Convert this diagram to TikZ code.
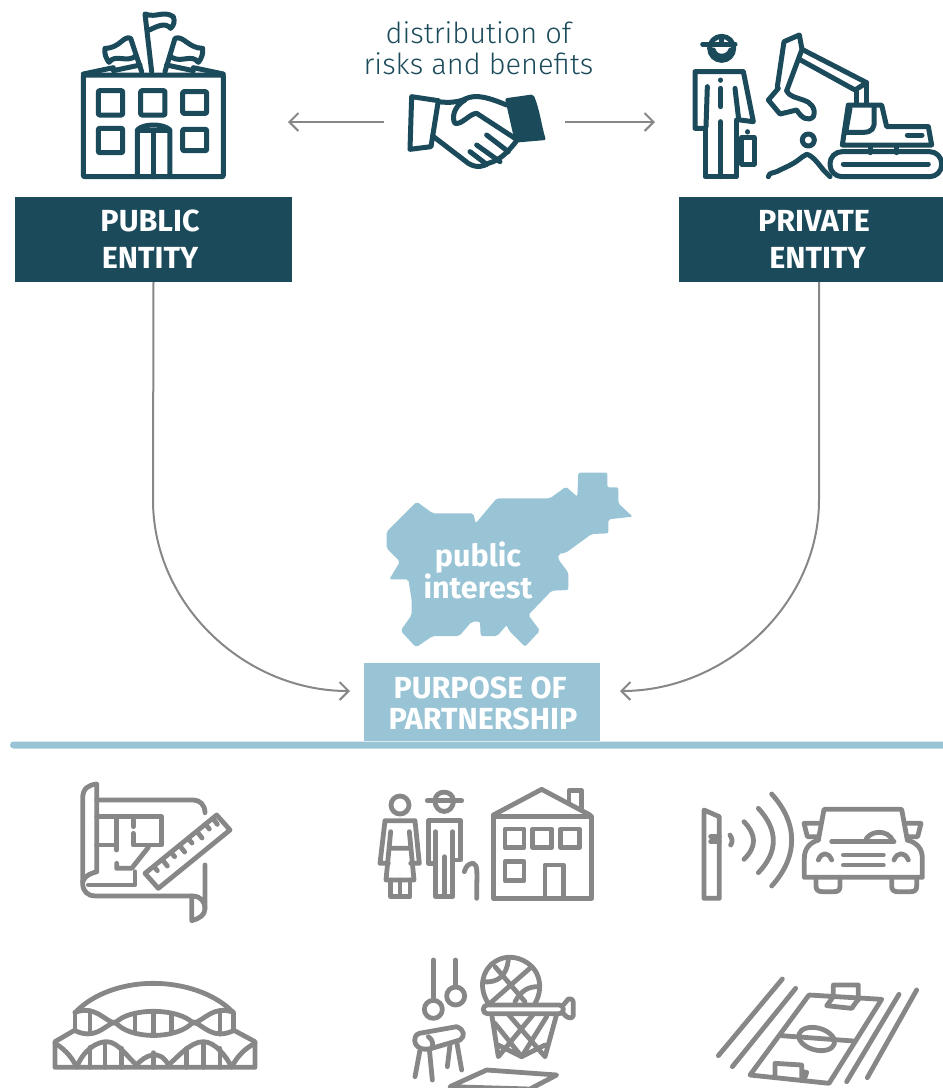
\documentclass[tikz,border=0pt]{standalone}
\usepackage{fontspec}
\setmainfont{Fira Sans}
\newfontfamily\lightfont{Fira Sans Light}
\usetikzlibrary{arrows.meta}
\definecolor{dark}{HTML}{1B4A5B}
\definecolor{light}{HTML}{98C4D6}
\definecolor{midgrey}{HTML}{878787}
\tikzset{
  x=1pt,y=-1pt,
  box/.style={fill=dark,text=white,minimum width=#1,minimum height=85pt,inner sep=0pt,align=center,font=\fontsize{30.5}{37}\selectfont\bfseries},
  purposebox/.style={fill=light,text=white,minimum width=236pt,minimum height=78pt,inner sep=0pt,align=center,font=\fontsize{30.5}{31}\selectfont\bfseries},
  darkicon/.style={draw=dark,line width=5pt,line cap=round,line join=round},
  greyicon/.style={draw=midgrey,line width=4.8pt,line cap=round,line join=round},
  conn/.style={draw=midgrey,line width=2pt,-{Straight Barb[length=9pt,width=18pt,line width=2pt]}},
  zoomed/.style={shift={#1},scale=1/3},
}
\begin{document}
\begin{tikzpicture}
\useasboundingbox (0,0) rectangle (943,1088);
\clip (0,0) rectangle (943,1088);

% boxes
\node[box=277pt] (public) at (153.5,239.5) {\hspace*{-7pt}PUBLIC\\\hspace*{-7pt}ENTITY};
\node[box=264pt] (private) at (811,239.5) {\hspace*{6pt}PRIVATE\\\hspace*{13pt}ENTITY};
\fill[light,rounded corners=3.5pt] (10,741.5) rectangle (960,748.5);
\node[purposebox,text depth=0pt] (purpose) at (482,702) {\raisebox{-2pt}{\hspace*{-4pt}PURPOSE OF}\\\raisebox{-2pt}{\hspace*{2pt}PARTNERSHIP}};

% top caption
\node[text=dark,align=center,font=\fontsize{29}{31}\selectfont\lightfont,inner sep=0pt] (caption) at (478.5,48) {distribution of\\risks and benefits};

% connectors
\coordinate (handL) at (384,122);
\coordinate (handR) at (565,122);
\coordinate (bldArrow) at (288,122);
\coordinate (excArrow) at (655,122);
\draw[conn] (handL) -- (bldArrow);
\draw[conn] (handR) -- (excArrow);
\coordinate (purposeL) at (350,691);
\coordinate (purposeR) at (620,691);
\coordinate (pubBend) at (153,500);
\coordinate (privStart) at (819,282);
\coordinate (privBend) at (819,500);
\draw[conn] (public.south) -- (pubBend) .. controls (153,605) and (245,691) .. (purposeL);
\draw[conn] (privStart) -- (privBend) .. controls (819,605) and (725,691) .. (purposeR);

% Slovenia
\begin{scope}[zoomed={(360,460)}]
\fill[light,rounded corners=2pt] (80,215)--(170,125)--(218,160)--(340,160)--(347,190)--(410,115)--(570,115)--(618,80)--(652,110)--(655,38)--(742,38)--(742,82)--(775,82)--(775,130)--(818,170)--(745,178)--(745,220)--(695,222)--(618,278)--(595,282)--(595,298)--(625,338)--(625,390)--(575,392)--(505,465)--(540,512)--(495,560)--(447,512)--(440,495)--(412,528)--(362,528)--(360,485)--(335,485)--(298,528)--(218,528)--(168,562)--(122,512)--(155,465)--(155,420)--(145,358)--(88,358)--(120,305)--(80,265)--cycle;
\end{scope}
\node[text=white,align=center,font=\fontsize{30.5}{32}\selectfont\bfseries,inner sep=0pt] (interest) at (478,570) {public\\interest};

% building
\begin{scope}[zoomed={(60,0)},darkicon]
\draw[rounded corners=1pt] (70,225) rectangle (490,530);
\draw (70,222)--(160,203)(400,203)--(490,222);
\draw (160,212)--(240,195)(320,195)--(400,212);
\draw[rounded corners=1pt] (115,272) rectangle (188,345) (242,272) rectangle (315,345) (368,275) rectangle (440,340) (115,385) rectangle (188,458) (368,388) rectangle (440,452);
\draw (232,530)--(232,390) .. controls (250,370) and (310,370) .. (330,390)--(330,530);
\draw (235,392)--(328,392) (280,392)--(280,530);
% flags
\draw (275,215)--(255,42) .. controls (290,55) and (310,30) .. (340,50) .. controls (345,65) and (342,75) .. (332,85) .. controls (315,65) and (290,80) .. (268,90);
\draw (245,215)--(212,115) .. controls (190,105) and (180,145) .. (135,145) .. controls (132,160) and (138,175) .. (147,187) .. controls (165,160) and (200,190) .. (228,168);
\draw (315,215)--(345,115) .. controls (370,105) and (385,145) .. (428,145) .. controls (430,160) and (425,175) .. (415,187) .. controls (395,160) and (365,190) .. (335,172);
\end{scope}

% handshake
\begin{scope}[zoomed={(60,0)},darkicon]
\fill[dark,rounded corners=2pt] (1335,295)--(1420,283) .. controls (1440,330) and (1445,380) .. (1458,420)--(1365,428)--cycle;
\draw (1135,302)--(1055,290)--(1050,448)--(1113,440)--(1135,302);
\draw (1135,305) .. controls (1170,310) and (1200,305) .. (1215,297) .. controls (1250,280) and (1290,295) .. (1340,315);
\draw (1215,300) .. controls (1180,320) and (1175,355) .. (1185,370) .. controls (1205,375) and (1230,340) .. (1250,340)--(1365,415);
\draw (1118,408)--(1225,490) .. controls (1250,505) and (1270,500) .. (1285,490) .. controls (1320,480) and (1340,460) .. (1368,425);
\draw (1280,405)--(1345,455) (1250,435)--(1320,485) (1230,455)--(1280,493);
\end{scope}

% man and excavator
\begin{scope}[zoomed={(680,20)},darkicon]
\draw (125,85) circle[radius=36];
\draw (68,72)--(165,72) (125,50)--(125,72);
\draw (100,90) .. controls (105,115) and (145,115) .. (152,90);
\draw (75,325)--(45,325)--(45,155)--(190,155)--(220,305)--(180,300);
\draw (75,325)--(75,470)--(170,470)--(170,300);
\draw (82,200)--(78,320) (165,205)--(176,298);
\draw (122,180)--(122,181) (122,205)--(122,260) (122,305)--(122,470);
\draw (185,352) rectangle (222,432);
\draw (203,335)--(203,336);
% stick, boom
\draw (292,200)--(312,65)--(358,45)--(366,88)--(320,212);
\draw (366,88)--(560,188)--(525,210)--(358,118);
\draw (560,188)--(560,252) (530,210)--(530,252);
\draw (295,205)--(265,240)--(300,282)--(350,270) .. controls (365,295) and (385,305) .. (400,290) .. controls (410,265) and (390,245) .. (370,240) .. controls (350,232) and (330,232) .. (320,212);
\draw (505,255)--(605,255)--(620,320)--(745,320)--(755,375)--(487,375)--cycle;
\draw (510,265)--(497,337)--(550,337) .. controls (575,337) and (585,325) .. (582,300)--(582,260);
\draw (682,345)--(726,345);
\draw[rounded corners=12pt] (450,395) rectangle (785,470);
\draw (490,432)--(745,432);
\draw (570,378)--(570,398) (650,378)--(650,398);
\draw (385,360) circle[radius=18];
\draw (265,470) .. controls (268,455) and (280,462) .. (300,450) .. controls (320,440) and (335,435) .. (355,420) .. controls (365,415) and (370,405) .. (380,403) .. controls (395,405) and (415,430) .. (430,450)--(450,470);
\end{scope}

% blueprint
\begin{scope}[zoomed={(60,770)},greyicon]
\draw (110,305)--(110,42) .. controls (85,45) and (68,55) .. (68,85)--(68,340) .. controls (68,365) and (85,378) .. (105,378)--(400,378) .. controls (420,378) and (435,395) .. (435,415)--(435,285);
\draw (68,335) .. controls (75,315) and (95,310) .. (110,305);
\draw (110,90)--(400,90) .. controls (420,90) and (435,105) .. (435,128);
\draw (395,378)--(395,452) .. controls (420,445) and (435,435) .. (435,415);
\draw (110,140)--(305,140)--(305,225)--(220,225)--(220,190) (220,150)--(220,170);
\draw (170,140)--(170,240) (110,225)--(170,225);
\draw (170,280)--(170,295)--(215,295)--(265,232);
\draw (85,345)--(225,345)--(225,305);
\draw (470,135)--(510,180)--(295,355)--(255,310)--cycle;
\draw (282,290)--(292,302) (308,270)--(322,288) (334,248)--(344,260) (360,228)--(374,246) (386,207)--(396,219) (412,186)--(426,204) (438,165)--(448,177) (460,147)--(472,163);
\end{scope}

% people and house
\begin{scope}[zoomed={(370,780)},greyicon]
\draw (90,75) circle[radius=27];
\draw (55,250)--(30,250)--(45,122)--(135,122)--(148,250)--(122,250);
\draw (62,155)--(48,300)--(132,300)--(118,155) (60,205)--(120,205);
\draw (62,300)--(62,350)--(120,350)--(120,300) (90,300)--(90,350);
\draw (172,62)--(275,62);
\draw (195,62) .. controls (195,28) and (250,28) .. (250,62) .. controls (250,105) and (195,105) .. (195,62);
\draw (195,250)--(175,250)--(175,122)--(272,122)--(272,240)--(250,240);
\draw (197,155)--(197,350)--(248,350)--(248,155) (223,230)--(223,350);
\draw (283,275) .. controls (288,255) and (300,250) .. (310,250) .. controls (325,255) and (320,280) .. (320,355);
\draw (370,110) rectangle (665,355);
\draw (370,105)--(515,28)--(660,105);
\draw (597,65)--(597,32)--(635,32)--(635,85);
\draw (405,147) rectangle (462,203) (488,147) rectangle (545,203) (572,147) rectangle (628,203) (405,245) rectangle (462,302);
\draw (525,355)--(525,255)--(580,255)--(580,355);
\end{scope}

% toll post and car
\begin{scope}[zoomed={(690,780)},greyicon]
\draw (42,90)--(88,110)--(88,355)--(42,355)--cycle;
\draw (62,170)--(88,170) (62,185)--(88,185);
\draw (120,165) .. controls (128,178) and (128,185) .. (122,195);
\draw (162,125) .. controls (200,165) and (200,200) .. (162,238);
\draw (205,85) .. controls (265,150) and (265,215) .. (205,278);
\draw (245,42) .. controls (325,130) and (325,230) .. (245,318);
\draw (385,180)--(402,88)--(635,88)--(652,180);
\draw (385,180) .. controls (360,188) and (343,205) .. (343,235)--(343,292)--(697,292)--(697,235) .. controls (697,205) and (680,188) .. (652,180);
\draw (386,130)--(342,130)--(352,170)--(380,170);
\draw (650,130)--(693,130)--(683,170)--(655,170);
\draw (425,185)--(612,185);
\draw (525,185) .. controls (535,150) and (595,145) .. (610,185);
\draw (460,225)--(580,225) (460,255)--(580,255);
\draw (385,240) .. controls (395,215) and (415,215) .. (425,240);
\draw (612,240) .. controls (622,215) and (645,215) .. (655,240);
\draw (378,292)--(378,318) .. controls (378,330) and (385,335) .. (397,335)--(432,335) .. controls (445,335) and (450,330) .. (450,318)--(450,292);
\draw (605,292)--(605,318) .. controls (605,330) and (612,335) .. (622,335)--(662,335) .. controls (675,335) and (680,330) .. (680,318)--(680,292);
\end{scope}

% stadium
\begin{scope}[zoomed={(40,970)},greyicon]
\draw (105,128) .. controls (160,70) and (250,40) .. (340,40) .. controls (430,40) and (525,70) .. (580,128);
\draw (105,130)--(105,180) (580,130)--(580,180);
\draw (105,127) .. controls (165,105) and (190,150) .. (225,160) .. controls (265,112) and (415,112) .. (460,160) .. controls (495,150) and (520,105) .. (580,127);
\draw (105,182) .. controls (165,210) and (190,170) .. (225,155) .. controls (265,210) and (415,210) .. (460,155) .. controls (495,170) and (520,210) .. (580,182);
\draw (150,122)--(150,190) (285,135)--(285,185) (340,130)--(340,195) (395,135)--(395,185) (540,122)--(540,192);
\draw (105,180)--(45,215)--(45,292)--(645,292)--(645,215)--(580,180);
\draw (45,220) .. controls (80,240) and (100,270) .. (110,292) .. controls (130,240) and (170,215) .. (200,215) .. controls (235,215) and (265,265) .. (290,285) .. controls (315,255) and (360,235) .. (385,285) .. controls (410,265) and (450,215) .. (490,215) .. controls (525,215) and (560,260) .. (575,292) .. controls (590,260) and (615,235) .. (645,220);
\draw (150,232)--(150,292) (195,218)--(195,292) (245,235)--(245,292) (340,248)--(340,292) (440,235)--(440,292) (490,218)--(490,292) (540,235)--(540,292);
\end{scope}

% gym
\begin{scope}[zoomed={(400,945)},greyicon]
\draw (100,45)--(100,165) (167,45)--(167,125);
\draw (100,193) circle[radius=27] (167,153) circle[radius=27];
\draw (58,265)--(170,245) .. controls (195,255) and (195,275) .. (180,285)--(95,310) .. controls (60,320) and (40,300) .. (45,280) .. controls (47,270) and (52,267) .. (58,265);
\draw (85,275) .. controls (100,285) and (100,300) .. (95,310);
\draw (60,315)--(45,395) (88,312)--(97,405) (150,300)--(142,365) (170,290)--(185,375);
\draw (265,175) .. controls (235,130) and (245,75) .. (285,50) .. controls (330,20) and (390,45) .. (410,85) .. controls (425,115) and (420,150) .. (405,175);
\draw (395,65)--(270,175) (285,65)--(375,170);
\draw (345,170) .. controls (365,135) and (385,125) .. (415,125);
\draw (250,110) .. controls (295,115) and (320,90) .. (325,45);
\draw[rounded corners=4pt] (250,180) rectangle (490,206);
\draw (490,180)--(505,162) .. controls (515,160) and (520,165) .. (520,175)--(520,212) .. controls (515,225) and (500,218) .. (490,206);
\draw (275,208)--(295,335)--(400,208) (470,208)--(435,335)--(325,208) (295,300)--(365,335)--(440,215) (365,335)--(285,235) (435,300)--(365,335);
\draw (150,425)--(260,375)--(470,390)--(390,432)--cycle;
\end{scope}

% football field
\begin{scope}[zoomed={(705,965)},greyicon]
\draw (232,42)--(40,272) (272,70)--(82,305) (582,88)--(425,350) (635,75)--(487,338);
\draw (312,90)--(530,103)--(372,355)--(135,330)--cycle;
\draw (230,212)--(445,228);
\draw[rotate around={-15:(335,222)}] (335,222) ellipse[x radius=55,y radius=33];
\draw (385,95)--(365,122)--(440,130)--(458,105) (385,92)--(385,60)--(460,60)--(460,105);
\draw (210,335)--(210,295)--(290,300)--(290,345) (290,320)--(305,322)--(297,345);
\end{scope}
\end{tikzpicture}
\end{document}
